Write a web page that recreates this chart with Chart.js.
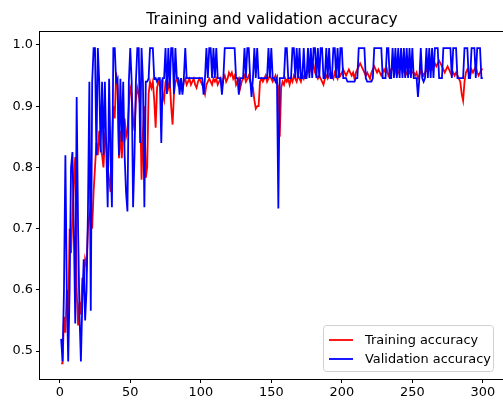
<!DOCTYPE html>
<html lang="en">
<head>
  <meta charset="UTF-8">
  <title>Training and validation accuracy</title>
  <script src="https://cdn.jsdelivr.net/npm/chart.js"></script>
  <style>
    * { margin: 0; padding: 0; box-sizing: border-box; }
    html, body { width: 503px; height: 403px; overflow: hidden; background: #fff; }
    .chart-box { position: relative; width: 510px; height: 403px; }
  </style>
</head>
<body>
  <div class="chart-box">
    <canvas id="accChart"></canvas>
  </div>

  <script>
    // accuracy per epoch (epochs 1..300)
    const trainAcc = [
      0.48, 0.48, 0.556, 0.53, 0.60, 0.55, 0.70, 0.66, 0.72, 0.78,
      0.817, 0.60, 0.542, 0.58, 0.56, 0.62, 0.60, 0.65, 0.64, 0.70,
      0.72, 0.735, 0.70, 0.76, 0.80, 0.84, 0.82, 0.86, 0.83, 0.82,
      0.80, 0.85, 0.84, 0.80, 0.78, 0.76, 0.84, 0.90, 0.88, 0.955,
      0.93, 0.815, 0.86, 0.815, 0.86, 0.88, 0.85, 0.86, 0.90, 0.93,
      0.92, 0.88, 0.86, 0.91, 0.93, 0.92, 0.90, 0.78, 0.86, 0.90,
      0.783, 0.80, 0.92, 0.94, 0.93, 0.94, 0.91, 0.865, 0.93, 0.94,
      0.935, 0.94, 0.92, 0.91, 0.94, 0.945, 0.93, 0.94, 0.90, 0.87,
      0.92, 0.94, 0.945, 0.935, 0.94, 0.93, 0.925, 0.94, 0.945, 0.935,
      0.94, 0.945, 0.935, 0.94, 0.945, 0.935, 0.93, 0.94, 0.945, 0.94,
      0.935, 0.93, 0.92, 0.935, 0.94, 0.945, 0.94, 0.935, 0.945, 0.94,
      0.945, 0.935, 0.94, 0.945, 0.93, 0.945, 0.95, 0.94, 0.945, 0.955,
      0.95, 0.955, 0.945, 0.95, 0.935, 0.94, 0.945, 0.93, 0.94, 0.945,
      0.95, 0.94, 0.945, 0.95, 0.94, 0.935, 0.93, 0.91, 0.896, 0.90,
      0.90, 0.94, 0.945, 0.94, 0.945, 0.95, 0.94, 0.945, 0.95, 0.945,
      0.94, 0.945, 0.95, 0.94, 0.93, 0.85, 0.93, 0.94, 0.935, 0.945,
      0.94, 0.945, 0.935, 0.945, 0.94, 0.95, 0.945, 0.94, 0.95, 0.945,
      0.94, 0.95, 0.945, 0.955, 0.95, 0.96, 0.955, 0.965, 0.96, 0.967,
      0.955, 0.95, 0.945, 0.95, 0.945, 0.94, 0.935, 0.945, 0.95, 0.945,
      0.95, 0.955, 0.95, 0.945, 0.955, 0.95, 0.945, 0.955, 0.95, 0.955,
      0.96, 0.955, 0.95, 0.955, 0.96, 0.955, 0.95, 0.955, 0.945, 0.955,
      0.96, 0.965, 0.97, 0.965, 0.96, 0.955, 0.95, 0.955, 0.95, 0.945,
      0.955, 0.96, 0.965, 0.96, 0.955, 0.96, 0.955, 0.95, 0.955, 0.96,
      0.955, 0.96, 0.95, 0.955, 0.96, 0.965, 0.955, 0.96, 0.95, 0.955,
      0.96, 0.965, 0.955, 0.96, 0.95, 0.955, 0.96, 0.955, 0.96, 0.955,
      0.955, 0.95, 0.955, 0.945, 0.95, 0.96, 0.955, 0.95, 0.955, 0.96,
      0.955, 0.96, 0.965, 0.96, 0.965, 0.97, 0.965, 0.97, 0.974, 0.97,
      0.965, 0.96, 0.955, 0.96, 0.965, 0.96, 0.955, 0.95, 0.955, 0.95,
      0.955, 0.95, 0.945, 0.94, 0.92, 0.909, 0.94, 0.955, 0.96, 0.955,
      0.95, 0.96, 0.955, 0.96, 0.965, 0.955, 0.95, 0.955, 0.96, 0.96
    ];

    const valAcc = [
      0.52, 0.483, 0.60, 0.82, 0.60, 0.483, 0.60, 0.80, 0.825, 0.70,
      0.545, 0.915, 0.70, 0.56, 0.483, 0.58, 0.65, 0.55, 0.60, 0.728,
      0.94, 0.566, 0.94, 0.995, 0.995, 0.82, 0.995, 0.94, 0.825, 0.94,
      0.82, 0.94, 0.83, 0.735, 0.945, 0.82, 0.735, 0.995, 0.995, 0.94,
      0.945, 0.82, 0.945, 0.842, 0.94, 0.82, 0.76, 0.728, 0.94, 0.995,
      0.94, 0.735, 0.82, 0.94, 0.995, 0.995, 0.84, 0.995, 0.94, 0.735,
      0.94, 0.94, 0.945, 0.995, 0.995, 0.995, 0.945, 0.946, 0.94, 0.946,
      0.946, 0.84, 0.946, 0.946, 0.995, 0.92, 0.995, 0.93, 0.995, 0.995,
      0.92, 0.995, 0.946, 0.946, 0.919, 0.946, 0.919, 0.946, 0.995, 0.946,
      0.946, 0.946, 0.946, 0.946, 0.946, 0.946, 0.946, 0.946, 0.946, 0.946,
      0.946, 0.919, 0.946, 0.995, 0.946, 0.995, 0.995, 0.946, 0.995, 0.946,
      0.995, 0.946, 0.946, 0.946, 0.919, 0.946, 0.995, 0.995, 0.995, 0.995,
      0.995, 0.995, 0.995, 0.995, 0.946, 0.946, 0.919, 0.946, 0.946, 0.946,
      0.995, 0.946, 0.995, 0.995, 0.946, 0.915, 0.946, 0.995, 0.946, 0.995,
      0.946, 0.946, 0.946, 0.946, 0.946, 0.946, 0.946, 0.995, 0.946, 0.995,
      0.946, 0.946, 0.94, 0.946, 0.733, 0.946, 0.946, 0.946, 0.946, 0.995,
      0.995, 0.946, 0.946, 0.946, 0.995, 0.995, 0.946, 0.995, 0.946, 0.995,
      0.946, 0.946, 0.995, 0.946, 0.946, 0.995, 0.946, 0.995, 0.946, 0.995,
      0.995, 0.946, 0.995, 0.946, 0.995, 0.995, 0.946, 0.946, 0.995, 0.946,
      0.995, 0.946, 0.946, 0.995, 0.995, 0.946, 0.995, 0.946, 0.995, 0.995,
      0.946, 0.946, 0.946, 0.94, 0.94, 0.94, 0.94, 0.94, 0.94, 0.946,
      0.946, 0.995, 0.995, 0.995, 0.995, 0.995, 0.946, 0.94, 0.94, 0.94,
      0.94, 0.946, 0.995, 0.995, 0.995, 0.995, 0.995, 0.995, 0.946, 0.946,
      0.946, 0.995, 0.995, 0.946, 0.946, 0.995, 0.946, 0.995, 0.946, 0.995,
      0.946, 0.995, 0.946, 0.995, 0.946, 0.995, 0.946, 0.995, 0.946, 0.995,
      0.946, 0.946, 0.946, 0.915, 0.946, 0.995, 0.946, 0.94, 0.946, 0.995,
      0.946, 0.995, 0.946, 0.995, 0.946, 0.995, 0.995, 0.995, 0.946, 0.946,
      0.946, 0.995, 0.995, 0.995, 0.995, 0.995, 0.995, 0.946, 0.995, 0.995,
      0.995, 0.946, 0.946, 0.946, 0.946, 0.946, 0.995, 0.995, 0.995, 0.946,
      0.946, 0.995, 0.995, 0.995, 0.946, 0.995, 0.995, 0.995, 0.946, 0.946
    ];

    const xTicks = [0, 50, 100, 150, 200, 250, 300];
    const yTicks = [0.5, 0.6, 0.7, 0.8, 0.9, 1.0];
    const seriesNames = ['Training accuracy', 'Validation accuracy'];
    const titleText = 'Training and validation accuracy';

    const FONT = "'DejaVu Sans', sans-serif";
    const toPoints = arr => arr.map((v, i) => ({ x: i + 1, y: v }));

    // frame, title and matplotlib-like legend
    const mplDecor = {
      id: 'mplDecor',
      afterDraw(chart) {
        const { ctx, chartArea: a } = chart;
        ctx.save();
        ctx.strokeStyle = '#000';
        ctx.lineWidth = 1;
        ctx.strokeRect(Math.round(a.left) - 0.5, Math.round(a.top) - 0.5,
          Math.round(a.right - a.left) + 1, Math.round(a.bottom - a.top) + 1);

        ctx.fillStyle = '#000';
        ctx.font = `15.5px ${FONT}`;
        ctx.textAlign = 'center';
        ctx.textBaseline = 'alphabetic';
        ctx.fillText(titleText, (a.left + a.right) / 2, 24);

        // legend box
        const bx = 323.5, by = 325.5, bw = 170, bh = 46;
        ctx.beginPath();
        ctx.roundRect(bx, by, bw, bh, 3);
        ctx.fillStyle = 'rgba(255,255,255,0.8)';
        ctx.fill();
        ctx.strokeStyle = '#d0d0d0';
        ctx.stroke();

        const colors = ['#ff0000', '#0000ff'];
        ctx.font = `12.9px ${FONT}`;
        ctx.textAlign = 'left';
        ctx.textBaseline = 'middle';
        seriesNames.forEach((name, i) => {
          const y = 340 + i * 19;
          ctx.beginPath();
          ctx.moveTo(329, y);
          ctx.lineTo(353, y);
          ctx.strokeStyle = colors[i];
          ctx.lineWidth = 1.8;
          ctx.stroke();
          ctx.fillStyle = '#000';
          ctx.fillText(name, 365, y + 0.5);
        });
        ctx.restore();
      }
    };

    const tickStyle = { display: true, drawOnChartArea: false, drawTicks: true, tickLength: 4, color: '#000', lineWidth: 1 };

    new Chart(document.getElementById('accChart'), {
      type: 'line',
      data: {
        datasets: [
          {
            label: seriesNames[1],
            data: toPoints(valAcc),
            borderColor: '#0000ff',
            borderWidth: 1.8,
            pointRadius: 0,
            tension: 0,
            order: 0
          },
          {
            label: seriesNames[0],
            data: toPoints(trainAcc),
            borderColor: '#ff0000',
            borderWidth: 1.8,
            pointRadius: 0,
            tension: 0,
            order: 1
          }
        ]
      },
      options: {
        responsive: true,
        maintainAspectRatio: false,
        animation: false,
        layout: { padding: { top: 32, right: 6, left: 0, bottom: 0 } },
        plugins: {
          legend: { display: false },
          title: { display: false },
          tooltip: { enabled: false }
        },
        scales: {
          x: {
            type: 'linear',
            min: -14,
            max: 315,
            grid: tickStyle,
            border: { display: false },
            afterBuildTicks: s => { s.ticks = xTicks.map(v => ({ value: v })); },
            afterFit: s => { s.height = 24; },
            ticks: { color: '#000', padding: 2, maxRotation: 0, font: { family: FONT, size: 12.9 } }
          },
          y: {
            min: 0.4545,
            max: 1.0212,
            grid: tickStyle,
            border: { display: false },
            afterBuildTicks: s => { s.ticks = yTicks.map(v => ({ value: v })); },
            afterFit: s => { s.width = 40; },
            ticks: { color: '#000', padding: 3, font: { family: FONT, size: 12.9 }, callback: v => v.toFixed(1) }
          }
        }
      },
      plugins: [mplDecor]
    });
  </script>
</body>
</html>
